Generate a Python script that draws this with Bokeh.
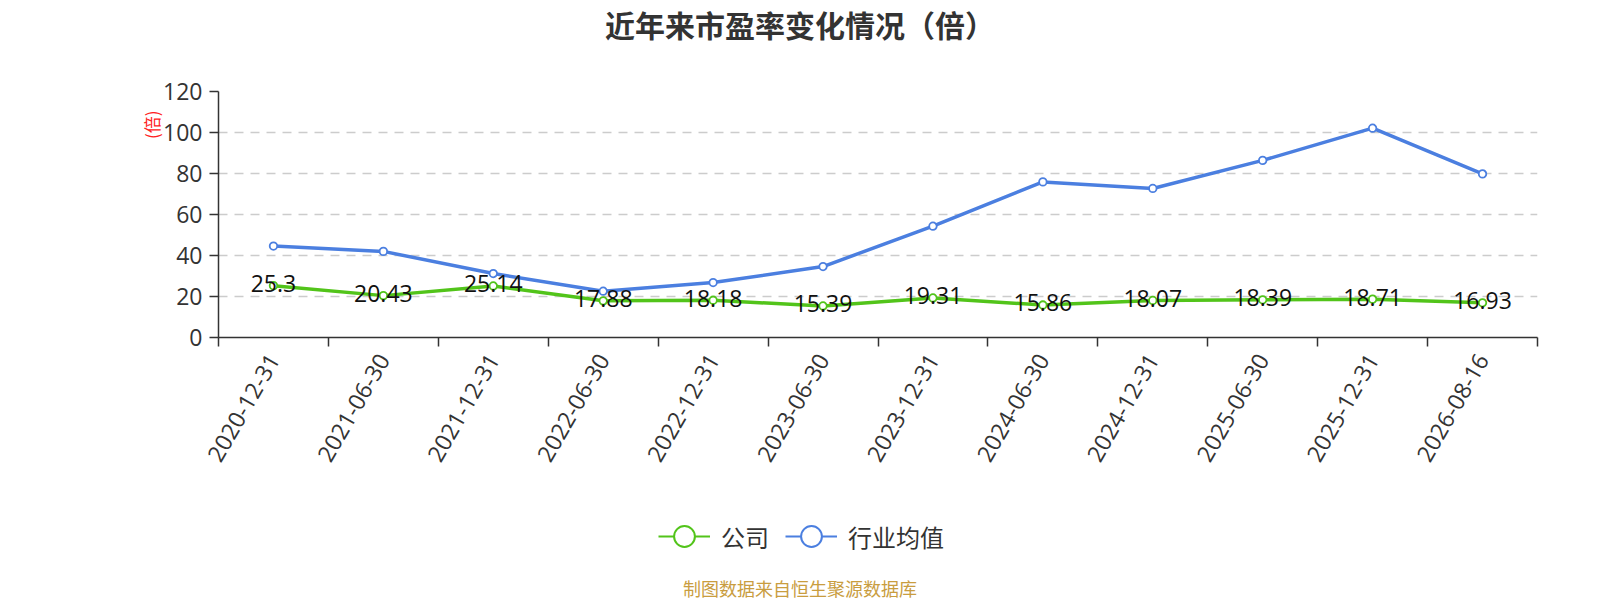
from math import pi
from bokeh.plotting import figure
from bokeh.layouts import column
from bokeh.models import Range1d, FixedTicker, Legend, LegendItem, ColumnDataSource, Title, Label
from bokeh.embed import file_html
from bokeh.resources import INLINE
from bokeh.core.properties import value

dates = ["2020-12-31", "2021-06-30", "2021-12-31", "2022-06-30", "2022-12-31", "2023-06-30",
         "2023-12-31", "2024-06-30", "2024-12-31", "2025-06-30", "2025-12-31", "2026-08-16"]
company = [25.3, 20.43, 25.14, 17.88, 18.18, 15.39, 19.31, 15.86, 18.07, 18.39, 18.71, 16.93]
industry = [44.6, 42.0, 31.2, 22.6, 26.8, 34.6, 54.3, 75.9, 72.7, 86.4, 102.1, 79.8]
y_ticks = [0, 20, 40, 60, 80, 100, 120]
series_names = ["公司", "行业均值"]
title_text = "近年来市盈率变化情况（倍）"
unit_text = "(倍)"
source_text = "制图数据来自恒生聚源数据库"

GREEN = "#52c41a"
BLUE = "#4b7fe0"
NUM_FONT = "Open Sans"
CJK_FONT = "Noto Sans CJK SC"
W = 1600
LEFT, RIGHT = 218, 63   # frame borders (column aligns all frames)

n = len(dates)
xs = [i + 0.5 for i in range(n)]
src = ColumnDataSource(dict(x=xs, company=company, industry=industry,
                            clabel=[str(v) for v in company]))


def bare(h, y_range):
    f = figure(width=W, height=h, x_range=Range1d(0, n), y_range=y_range,
               output_backend="svg", toolbar_location=None,
               x_axis_location=None, y_axis_location=None,
               min_border_left=LEFT, min_border_right=RIGHT, min_border_top=0, min_border_bottom=0)
    f.outline_line_color = None
    f.grid.visible = False
    return f


# ---- top strip: title (screen x measured from frame left)
top = bare(64, Range1d(0, 1))
top.add_layout(Label(x=581.5, y=41, x_units="screen", y_units="screen", text=title_text,
                     text_align="center", text_baseline="middle", text_font_size="30px",
                     text_font_style="bold", text_color="#333333", text_font=CJK_FONT))

# ---- main chart
p = figure(width=W, height=416, x_range=Range1d(0, n), y_range=Range1d(0, 120),
           output_backend="svg", toolbar_location=None,
           min_border_left=LEFT, min_border_right=RIGHT, min_border_top=27, min_border_bottom=143)
p.outline_line_color = None

p.xaxis.ticker = FixedTicker(ticks=xs, minor_ticks=list(range(n + 1)))
p.xaxis.major_label_overrides = {x: d for x, d in zip(xs, dates)}
p.xaxis.major_label_orientation = pi / 3
p.xaxis.major_tick_out = 0
p.xaxis.major_tick_in = 0
p.xaxis.minor_tick_out = 9
p.xaxis.minor_tick_in = 0
p.xaxis.minor_tick_line_color = "#333333"
p.xaxis.minor_tick_line_width = 1.5
p.xaxis.major_label_standoff = 9
p.xaxis.major_label_text_font_size = "23px"
p.xaxis.major_label_text_color = "#333333"
p.xaxis.major_label_text_font = NUM_FONT
p.xaxis.axis_line_color = "#333333"
p.xaxis.axis_line_width = 1.5

p.yaxis.ticker = FixedTicker(ticks=y_ticks)
p.yaxis.major_tick_out = 9
p.yaxis.major_tick_in = 0
p.yaxis.minor_tick_line_color = None
p.yaxis.major_tick_line_color = "#333333"
p.yaxis.major_tick_line_width = 1.5
p.yaxis.major_label_standoff = 7
p.yaxis.major_label_text_font_size = "23px"
p.yaxis.major_label_text_color = "#333333"
p.yaxis.major_label_text_font = NUM_FONT
p.yaxis.axis_line_color = "#333333"
p.yaxis.axis_line_width = 1.5

p.xgrid.visible = False
p.ygrid.ticker = FixedTicker(ticks=y_ticks[1:])
p.ygrid.grid_line_color = "#cccccc"
p.ygrid.grid_line_width = 1.5
p.ygrid.grid_line_dash = "9 7"

p.line("x", "industry", source=src, line_color=BLUE, line_width=3.5)
p.scatter("x", "industry", source=src, size=7.5, fill_color="white", line_color=BLUE, line_width=1.8)
p.line("x", "company", source=src, line_color=GREEN, line_width=3.5)
p.scatter("x", "company", source=src, size=7.5, fill_color="white", line_color=GREEN, line_width=1.8)

p.text("x", "company", text="clabel", source=src, text_align="center", text_baseline="middle",
       y_offset=-2, text_font_size="23px", text_color="#111111", text_font=value(NUM_FONT))

p.add_layout(Title(text=unit_text, align="right", offset=19, standoff=-7,
                   text_font_size="17px", text_font_style="normal",
                   text_color="#ff2020", text_font=CJK_FONT), "left")

# ---- bottom strip: legend + source note (series drawn off-view, used only for legend keys)
bot = bare(120, Range1d(1000, 1100))
gl = bot.line("x", "company", source=src, line_color=GREEN, line_width=2)
gs = bot.scatter("x", "company", source=src, fill_color="white", line_color=GREEN, line_width=2)
bl = bot.line("x", "industry", source=src, line_color=BLUE, line_width=2)
bs = bot.scatter("x", "industry", source=src, fill_color="white", line_color=BLUE, line_width=2)
legend = Legend(items=[LegendItem(label=series_names[0], renderers=[gl, gs]),
                       LegendItem(label=series_names[1], renderers=[bl, bs])],
                orientation="horizontal", location=(440, 35),
                glyph_width=52, glyph_height=58, label_standoff=11, spacing=16, padding=10,
                label_text_font_size="24px", label_text_color="#333333", label_text_font=CJK_FONT,
                border_line_color=None, background_fill_alpha=0)
bot.add_layout(legend)
bot.add_layout(Label(x=581.5, y=13, x_units="screen", y_units="screen", text=source_text,
                     text_align="center", text_baseline="middle", text_font_size="18px",
                     text_color="#c99d3f", text_font=CJK_FONT))

layout = column(top, p, bot, spacing=0)
open("out.html", "w").write(file_html(layout, INLINE))
